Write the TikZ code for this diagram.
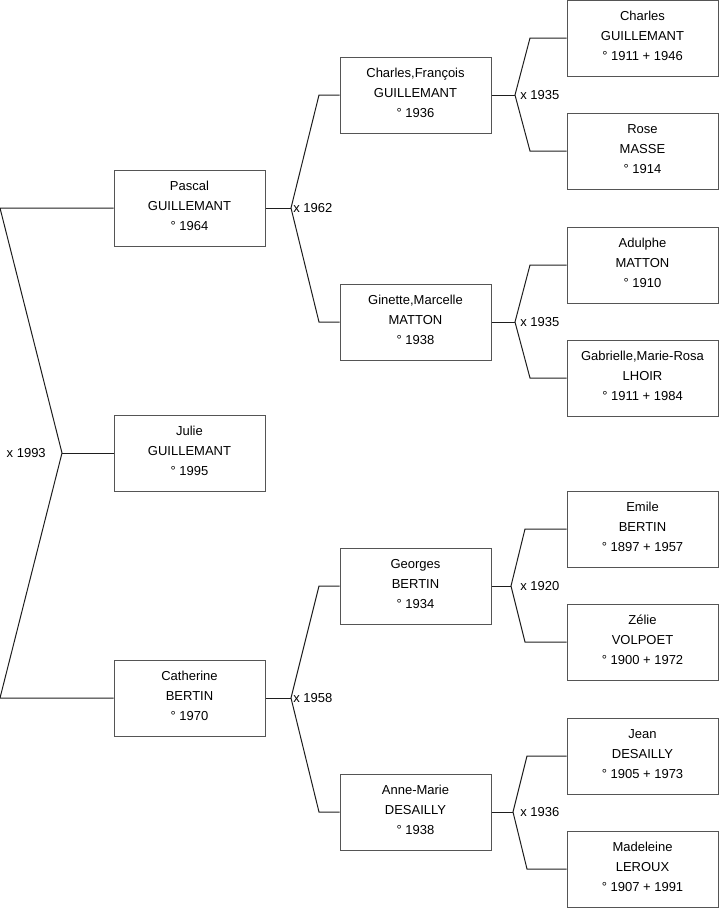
\documentclass[tikz,border=0pt]{standalone}
\usepackage{fontspec}
\setmainfont{Liberation Sans}
\definecolor{boxline}{RGB}{85,85,85}
\definecolor{linkline}{RGB}{30,30,30}
\begin{document}
\begin{tikzpicture}[x=0.75pt,y=-0.75pt,
  person/.style={draw=boxline,line width=0.75pt,minimum width=113.25pt,minimum height=57pt,
    inner sep=0pt,align=center,font=\fontsize{9.75}{15}\selectfont,
    execute at end node={\rule[-3pt]{0pt}{3pt}}},
  link/.style={draw=linkline,line width=0.75pt,line join=miter},
  marr/.style={font=\fontsize{9.75}{12}\selectfont,inner sep=0pt}]
\useasboundingbox (0,0) rectangle (719,908);
% generation 1
\node[person] (p1) at (189.5,208) {Pascal\\GUILLEMANT\\° 1964};
\node[person] (p2) at (189.5,453) {Julie\\GUILLEMANT\\° 1995};
\node[person] (p3) at (189.5,698) {Catherine\\BERTIN\\° 1970};
% generation 2
\node[person] (c1) at (415.5,95) {Charles,François\\GUILLEMANT\\° 1936};
\node[person] (c2) at (415.5,322) {Ginette,Marcelle\\MATTON\\° 1938};
\node[person] (c3) at (415.5,586) {Georges\\BERTIN\\° 1934};
\node[person] (c4) at (415.5,812) {Anne-Marie\\DESAILLY\\° 1938};
% generation 3
\node[person] (g1) at (642.5,38) {Charles\\GUILLEMANT\\° 1911 + 1946};
\node[person] (g2) at (642.5,151) {Rose\\MASSE\\° 1914};
\node[person] (g3) at (642.5,265) {Adulphe\\MATTON\\° 1910};
\node[person] (g4) at (642.5,378) {Gabrielle,Marie-Rosa\\LHOIR\\° 1911 + 1984};
\node[person] (g5) at (642.5,529) {Emile\\BERTIN\\° 1897 + 1957};
\node[person] (g6) at (642.5,642) {Zélie\\VOLPOET\\° 1900 + 1972};
\node[person] (g7) at (642.5,756) {Jean\\DESAILLY\\° 1905 + 1973};
\node[person] (g8) at (642.5,869) {Madeleine\\LEROUX\\° 1907 + 1991};
% left fork
\coordinate (L1) at (0,208);
\coordinate (L2) at (0,698);
\coordinate (J) at (62,453);
\draw[link] (p1.west) -- (L1) -- (J) -- (L2) -- (p3.west);
\draw[link] (J) -- (p2.west);
\node[marr,anchor=east] (m0) at (46,453) {x 1993};
% forks gen1 -> gen2
\coordinate (f1) at (291,208);
\coordinate (f1a) at (319,95);
\coordinate (f1b) at (319,322);
\draw[link] (p1.east) -- (f1);
\draw[link] (c1.west) -- (f1a) -- (f1) -- (f1b) -- (c2.west);
\node[marr,anchor=west] (m1) at (293,208) {x 1962};
\coordinate (f3) at (291,698);
\coordinate (f3a) at (319,586);
\coordinate (f3b) at (319,812);
\draw[link] (p3.east) -- (f3);
\draw[link] (c3.west) -- (f3a) -- (f3) -- (f3b) -- (c4.west);
\node[marr,anchor=west] (m3) at (293,698) {x 1958};
% forks gen2 -> gen3
\coordinate (k1) at (515,95);
\coordinate (k1a) at (530,38);
\coordinate (k1b) at (530,151);
\draw[link] (c1.east) -- (k1);
\draw[link] (g1.west) -- (k1a) -- (k1) -- (k1b) -- (g2.west);
\node[marr,anchor=west] (m4) at (520,95) {x 1935};
\coordinate (k2) at (515,322);
\coordinate (k2a) at (530,265);
\coordinate (k2b) at (530,378);
\draw[link] (c2.east) -- (k2);
\draw[link] (g3.west) -- (k2a) -- (k2) -- (k2b) -- (g4.west);
\node[marr,anchor=west] (m5) at (520,322) {x 1935};
\coordinate (k3) at (511,586);
\coordinate (k3a) at (525,529);
\coordinate (k3b) at (525,642);
\draw[link] (c3.east) -- (k3);
\draw[link] (g5.west) -- (k3a) -- (k3) -- (k3b) -- (g6.west);
\node[marr,anchor=west] (m6) at (520,586) {x 1920};
\coordinate (k4) at (513,812);
\coordinate (k4a) at (527,756);
\coordinate (k4b) at (527,869);
\draw[link] (c4.east) -- (k4);
\draw[link] (g7.west) -- (k4a) -- (k4) -- (k4b) -- (g8.west);
\node[marr,anchor=west] (m7) at (520,812) {x 1936};
\end{tikzpicture}
\end{document}
